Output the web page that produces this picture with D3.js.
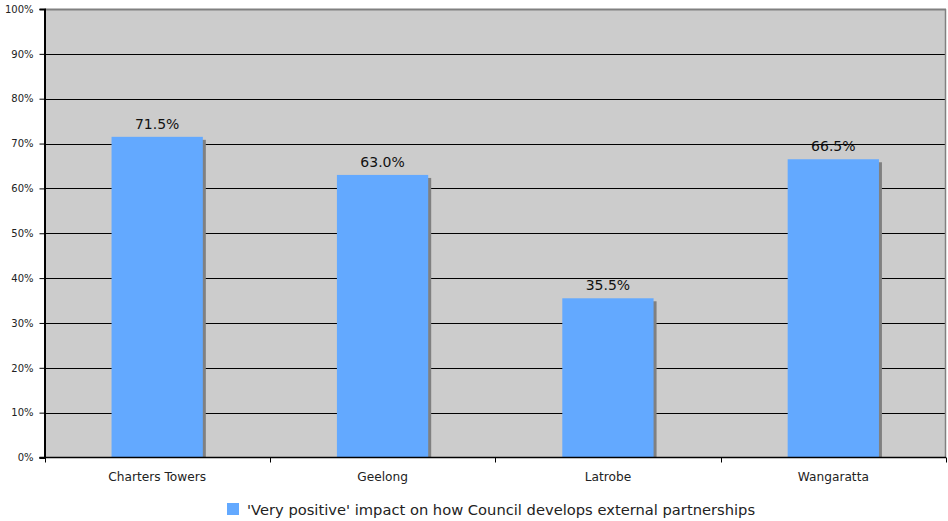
<!DOCTYPE html>
<html>
<head>
<meta charset="utf-8">
<script src="https://cdn.jsdelivr.net/npm/d3@7"></script>
<style>
  html, body { margin: 0; padding: 0; background: #ffffff; }
  svg { display: block; font-family: "DejaVu Sans", Verdana, sans-serif; }
</style>
</head>
<body>
<svg id="chart" width="948" height="521"></svg>
<script>
// Councils and their share of 'very positive' responses
const categories = ["Charters Towers", "Geelong", "Latrobe", "Wangaratta"];
const values = [71.5, 63.0, 35.5, 66.5];
const yTicks = [0, 10, 20, 30, 40, 50, 60, 70, 80, 90, 100];
const seriesName = "'Very positive' impact on how Council develops external partnerships";

const svg = d3.select("#chart");
const plotLeft = 44.5, plotRight = 946, plotTop = 9, plotBottom = 457.5;

const x = d3.scaleBand().domain(categories).range([plotLeft, plotRight]).paddingInner(0).paddingOuter(0);
const y = d3.scaleLinear().domain([0, 100]).range([plotBottom, plotTop]);

// plot background
svg.append("rect")
  .attr("x", plotLeft).attr("y", plotTop)
  .attr("width", plotRight - plotLeft).attr("height", plotBottom - plotTop)
  .attr("fill", "#cccccc");

// horizontal gridlines
svg.append("g").selectAll("line")
  .data(yTicks.filter(d => d > 0 && d < 100))
  .join("line")
  .attr("x1", plotLeft).attr("x2", plotRight)
  .attr("y1", d => Math.round(y(d)) + 0.5).attr("y2", d => Math.round(y(d)) + 0.5)
  .attr("stroke", "#000").attr("stroke-width", 1);

// top and right frame
svg.append("line").attr("x1", plotLeft).attr("x2", plotRight).attr("y1", plotTop + 0.5).attr("y2", plotTop + 0.5)
  .attr("stroke", "#808080").attr("stroke-width", 2);
svg.append("line").attr("x1", plotRight - 0.5).attr("x2", plotRight - 0.5).attr("y1", plotTop).attr("y2", plotBottom)
  .attr("stroke", "#808080").attr("stroke-width", 1.5);

const barW = x.bandwidth() * 0.405;
const bars = svg.append("g");
// bar shadows
bars.selectAll("rect.shadow")
  .data(values)
  .join("rect")
  .attr("class", "shadow")
  .attr("x", (d, i) => x(categories[i]) + (x.bandwidth() - barW) / 2 + 3)
  .attr("y", d => y(d) + 3)
  .attr("width", barW)
  .attr("height", d => plotBottom - y(d) - 3)
  .attr("fill", "#808080");
// bars
bars.selectAll("rect.bar")
  .data(values)
  .join("rect")
  .attr("class", "bar")
  .attr("x", (d, i) => x(categories[i]) + (x.bandwidth() - barW) / 2)
  .attr("y", d => y(d))
  .attr("width", barW)
  .attr("height", d => plotBottom - y(d))
  .attr("fill", "#63a9ff");

// value labels
svg.append("g").selectAll("text")
  .data(values)
  .join("text")
  .attr("x", (d, i) => x(categories[i]) + x.bandwidth() / 2)
  .attr("y", d => y(d) - 8)
  .attr("text-anchor", "middle")
  .attr("font-size", 14)
  .attr("fill", "#111")
  .text(d => d.toFixed(1) + "%");

// y axis
const yAxis = d3.axisLeft(y).tickValues(yTicks).tickSize(5).tickPadding(6)
  .tickFormat(d => d + "%");
const gy = svg.append("g").attr("transform", `translate(${plotLeft},0)`).call(yAxis);
gy.select(".domain").attr("stroke", "#000").attr("stroke-width", 2);
gy.selectAll(".tick line").attr("stroke", "#000");
gy.selectAll(".tick text").attr("font-size", 10).attr("fill", "#222")
  .attr("font-family", "DejaVu Sans, Verdana, sans-serif");

// x axis with ticks at category boundaries
const gx = svg.append("g").attr("transform", `translate(0,${plotBottom})`);
gx.append("line").attr("x1", plotLeft - 5).attr("x2", plotRight).attr("y1", 0).attr("y2", 0)
  .attr("stroke", "#000").attr("stroke-width", 1.5);
const bounds = categories.map(c => x(c)).concat([plotRight]);
gx.selectAll("line.tick")
  .data(bounds)
  .join("line")
  .attr("class", "tick")
  .attr("x1", d => Math.round(d) + 0.5).attr("x2", d => Math.round(d) + 0.5)
  .attr("y1", 0).attr("y2", 5)
  .attr("stroke", "#000");
gx.selectAll("text")
  .data(categories)
  .join("text")
  .attr("x", d => x(d) + x.bandwidth() / 2)
  .attr("y", 23)
  .attr("text-anchor", "middle")
  .attr("font-size", 12.2)
  .attr("fill", "#222")
  .text(d => d);

// legend
const legend = svg.append("g");
legend.append("rect").attr("x", 227).attr("y", 503).attr("width", 12).attr("height", 12).attr("fill", "#63a9ff");
legend.append("text").attr("x", 247).attr("y", 515)
  .attr("font-size", 14.7).attr("fill", "#222").text(seriesName);
</script>
</body>
</html>
